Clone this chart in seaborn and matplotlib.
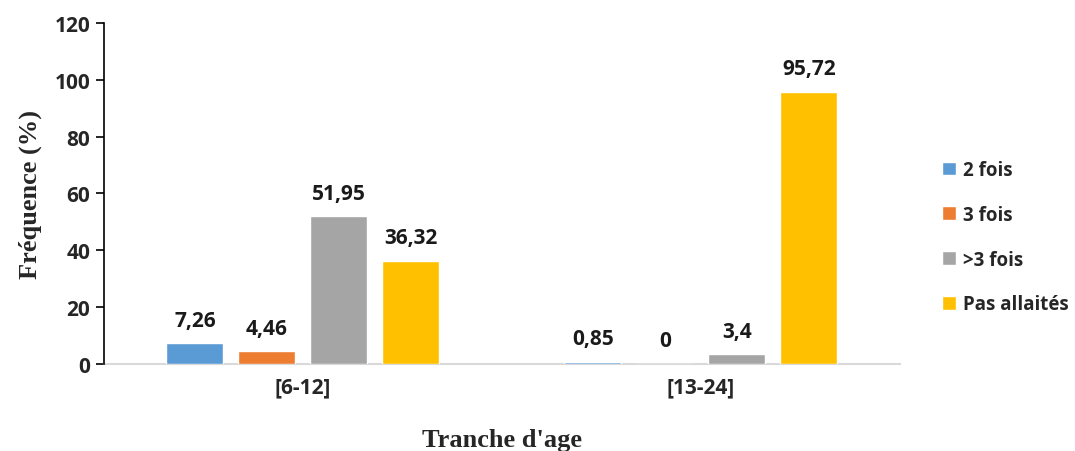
import matplotlib
matplotlib.use("Agg")
import matplotlib.pyplot as plt
import seaborn as sns
import pandas as pd

categories = ["[6-12]", "[13-24]"]
series = ["2 fois", "3 fois", ">3 fois", "Pas allaités"]
values_2fois = [7.26, 0.85]
values_3fois = [4.46, 0.0]
values_plus3 = [51.95, 3.4]
values_pas = [36.32, 95.72]
colors = ["#5B9BD5", "#ED7D31", "#A5A5A5", "#FFC000"]
yticks = [0, 20, 40, 60, 80, 100, 120]

sns.set_theme(style="white")
plt.rcParams["font.family"] = ["Open Sans", "DejaVu Sans"]

rows = []
for s, vals in zip(series, [values_2fois, values_3fois, values_plus3, values_pas]):
    for c, v in zip(categories, vals):
        rows.append({"age": c, "freq": v, "type": s})
df = pd.DataFrame(rows)

fig = plt.figure(figsize=(10.75, 4.52), dpi=100)
ax = fig.add_axes([0.0967, 0.1925, 0.7403, 0.7545])

sns.barplot(data=df, x="age", y="freq", hue="type", order=categories,
            hue_order=series, palette=colors, width=0.724, gap=0.21,
            saturation=1, ax=ax, legend=True, zorder=3)

for cont in ax.containers:
    labs = [f"{b.get_height():g}".replace(".", ",") for b in cont]
    ax.bar_label(cont, labels=labs, padding=9, fontsize=15, fontweight="bold",
                 color="#1a1a1a")

ax.set_xlim(-0.5, 1.5)
ax.set_ylim(0, 120)
ax.set_yticks(yticks)
ax.set_yticklabels([str(t) for t in yticks], fontsize=15, fontweight="bold")
ax.set_xticks(range(len(categories)))
ax.set_xticklabels(categories, fontsize=15, fontweight="bold")
ax.set_xticks([-0.5, 0.5, 1.5], minor=True)
ax.tick_params(axis="x", which="major", length=0, pad=9)
ax.tick_params(axis="x", which="minor", length=6, color="#D9D9D9", width=1.2, direction="out")
ax.tick_params(axis="y", length=6, width=1.2, color="black", direction="out", pad=4, left=True)

for sp in ["top", "right"]:
    ax.spines[sp].set_visible(False)
ax.spines["left"].set_color("black")
ax.spines["left"].set_linewidth(1.2)
ax.spines["bottom"].set_color("#D9D9D9")
ax.spines["bottom"].set_linewidth(1.5)
ax.spines["bottom"].set_zorder(1)

ax.set_xlabel("Tranche d'age", family="Liberation Serif", fontsize=19,
              fontweight="bold", labelpad=22)
ax.set_ylabel("Fréquence (%)", family="Liberation Serif", fontsize=19,
              fontweight="bold", labelpad=9)

ax.legend(loc="center left", bbox_to_anchor=(0.876, 0.473),
          bbox_transform=fig.transFigure, frameon=False,
          prop={"size": 13.5, "weight": "bold"}, handlelength=0.75,
          handleheight=0.75, handletextpad=0.4, labelspacing=1.32,
          borderaxespad=0, borderpad=0)

fig.savefig("out.png", dpi=100)
